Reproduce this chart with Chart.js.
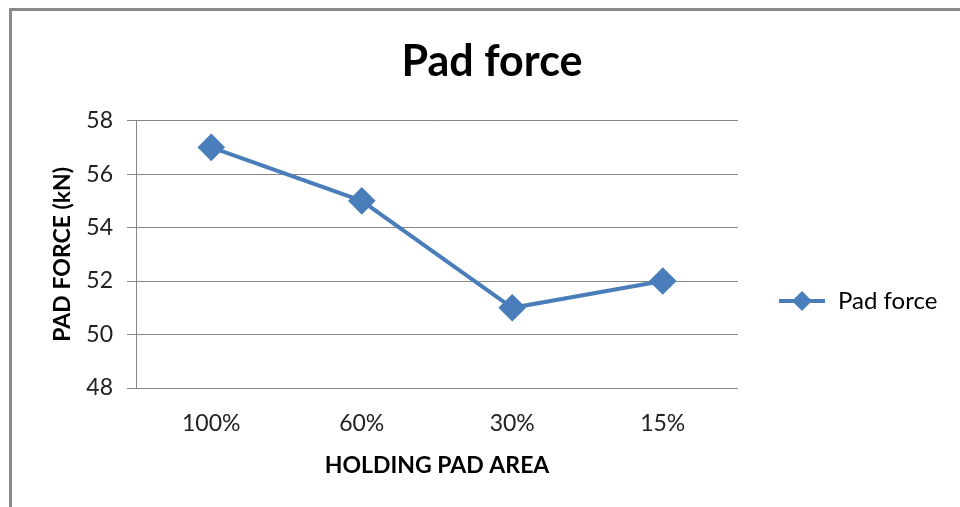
<!DOCTYPE html>
<html>
<head>
<meta charset="utf-8">
<title>Pad force</title>
<script src="https://cdn.jsdelivr.net/npm/chart.js@4/dist/chart.umd.min.js"></script>
<style>
body{
    margin:0;
    background:white;
}
#wrap{
    position:relative;
    width:960px;
    height:507px;
    overflow:hidden;
}
#frame{
    position:absolute;
    left:9px;
    top:8px;
    width:1000px;
    height:600px;
    border-left:3px solid #8a8a8a;
    border-top:3px solid #8a8a8a;
}
#padChart{
    position:absolute;
    left:0;
    top:0;
}
</style>
</head>
<body>

<div id="wrap">
    <div id="frame"></div>
    <canvas id="padChart" width="960" height="507"></canvas>
</div>

<script>

let padAreas = ["100%", "60%", "30%", "15%"];

let padForces = [57, 55, 51, 52];

let forceTicks = [48, 50, 52, 54, 56, 58];

let seriesName = "Pad force";

let lineColor = "#4a7ebb";

let gridColor = "#868686";

let fontName = "Lato";

// legend like excel: short line with a diamond in the middle
let legendPlugin = {

    id:"sideLegend",

    afterDraw(chart){

        let ctx = chart.ctx;
        let y = 301;

        ctx.save();

        ctx.strokeStyle = lineColor;
        ctx.lineWidth = 4;
        ctx.beginPath();
        ctx.moveTo(779, y);
        ctx.lineTo(825, y);
        ctx.stroke();

        ctx.fillStyle = lineColor;
        ctx.beginPath();
        ctx.moveTo(802, y - 10);
        ctx.lineTo(812, y);
        ctx.lineTo(802, y + 10);
        ctx.lineTo(792, y);
        ctx.closePath();
        ctx.fill();

        ctx.fillStyle = "#000";
        ctx.font = "24px " + fontName;
        ctx.textBaseline = "middle";
        ctx.textAlign = "left";
        ctx.fillText(chart.data.datasets[0].label, 838, y);

        ctx.restore();
    }
};

let padChart = new Chart(

    document.getElementById("padChart"),

    {
        type:"line",

        data:{

            labels:padAreas,

            datasets:[{

                label:seriesName,

                data:padForces,

                borderColor:lineColor,

                backgroundColor:lineColor,

                borderWidth:4,

                pointStyle:"rectRot",

                pointRadius:11,

                pointHoverRadius:11,

                tension:0

            }]
        },

        options:{

            responsive:false,

            animation:false,

            layout:{
                padding:{left:24, right:0, top:0, bottom:0}
            },

            plugins:{

                legend:{display:false},

                tooltip:{enabled:false},

                title:{
                    display:true,
                    text:seriesName,
                    color:"#000",
                    font:{family:fontName, size:43, weight:"bold"},
                    padding:{top:36, bottom:33}
                }
            },

            scales:{

                x:{
                    offset:true,
                    grid:{display:false, drawTicks:false},
                    border:{display:false},
                    ticks:{
                        color:"#222",
                        font:{family:fontName, size:23},
                        padding:22
                    },
                    title:{
                        display:true,
                        text:"HOLDING PAD AREA",
                        color:"#000",
                        font:{family:fontName, size:23, weight:"bold"},
                        padding:{top:0, bottom:28}
                    },
                    afterFit(scale){
                        scale.height = 119;
                    }
                },

                y:{
                    min:forceTicks[0],
                    max:forceTicks[forceTicks.length - 1],
                    afterBuildTicks(scale){
                        scale.ticks = forceTicks.map(v => ({value:v}));
                    },
                    grid:{
                        color:gridColor,
                        tickLength:9,
                        lineWidth:1
                    },
                    border:{color:gridColor, width:1},
                    ticks:{
                        color:"#222",
                        font:{family:fontName, size:23},
                        padding:14
                    },
                    title:{
                        display:true,
                        text:"PAD FORCE (kN)",
                        color:"#000",
                        font:{family:fontName, size:23, weight:"bold"},
                        padding:{top:25, bottom:0}
                    },
                    afterFit(scale){
                        scale.width = 112;
                    }
                },

                // empty right side where the legend sits
                legendSpace:{
                    type:"linear",
                    position:"right",
                    display:true,
                    grid:{display:false, drawTicks:false},
                    border:{display:false},
                    ticks:{display:false},
                    afterFit(scale){
                        scale.width = 222;
                    }
                }
            }
        },

        plugins:[legendPlugin]
    }
);

</script>
</body>
</html>
